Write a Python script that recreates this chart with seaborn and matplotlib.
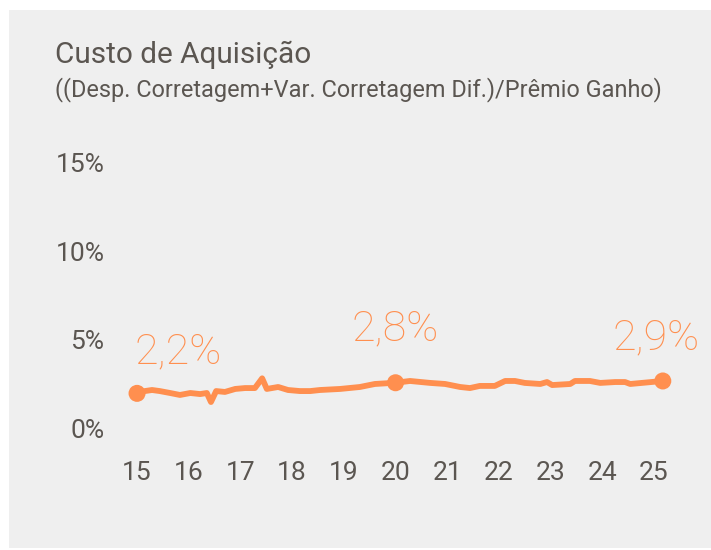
import numpy as np
import pandas as pd
import matplotlib.pyplot as plt
import seaborn as sns
from matplotlib.patches import Rectangle
from matplotlib.transforms import ScaledTranslation

# series (year fraction, % of earned premium)
years = [15.00, 15.15, 15.29, 15.44, 15.64, 15.83, 16.03, 16.22, 16.35, 16.43,
         16.53, 16.70, 16.90, 17.09, 17.28, 17.42, 17.51, 17.73, 17.92, 18.15,
         18.35, 18.54, 18.93, 19.31, 19.60, 20.00, 20.28, 20.67, 20.96, 21.25,
         21.44, 21.63, 21.92, 22.12, 22.31, 22.50, 22.80, 22.93, 23.03, 23.38,
         23.47, 23.76, 23.96, 24.25, 24.44, 24.54, 25.17]
values = [2.20, 2.33, 2.39, 2.33, 2.22, 2.11, 2.22, 2.16, 2.22, 1.71,
          2.33, 2.28, 2.45, 2.50, 2.50, 3.05, 2.45, 2.56, 2.39, 2.33,
          2.33, 2.39, 2.45, 2.56, 2.73, 2.80, 2.90, 2.79, 2.73, 2.56,
          2.50, 2.62, 2.62, 2.90, 2.90, 2.79, 2.73, 2.84, 2.67, 2.73,
          2.90, 2.90, 2.79, 2.84, 2.84, 2.73, 2.90]

highlight_years = [15.00, 20.00, 25.17]
highlight_values = [2.20, 2.80, 2.90]
highlight_labels = ["2,2%", "2,8%", "2,9%"]

x_ticks = list(range(15, 26))
x_labels = [str(t) for t in x_ticks]
y_ticks = [0, 5, 10, 15]
y_labels = ["0%", "5%", "10%", "15%"]

orange = "#ff8f4f"
text_gray = "#5b5651"
panel_gray = "#efefef"

sns.set_theme(style="white")
plt.rcParams["font.family"] = ["Roboto", "DejaVu Sans"]

fig = plt.figure(figsize=(7.11, 5.5), dpi=100)
fig.patch.set_facecolor("white")
fig.patches.append(Rectangle((9 / 711, 2 / 550), 702 / 711, 538 / 550,
                             transform=fig.transFigure, facecolor=panel_gray,
                             edgecolor="none", zorder=-10))

ax = fig.add_axes([0.1782, 0.1979, 0.778, 0.531])
ax.set_facecolor("none")

df = pd.DataFrame({"year": years, "value": values})
sns.lineplot(data=df, x="year", y="value", ax=ax, color=orange,
             linewidth=4.2, solid_capstyle="round", solid_joinstyle="round")
sns.scatterplot(x=highlight_years, y=highlight_values, ax=ax, color=orange,
                s=150, edgecolor="none", zorder=5)

offsets = [(-1.5, 30), (0, 39), (-5, 31)]
aligns = ["left", "center", "center"]
for xv, yv, lab, off, ha in zip(highlight_years, highlight_values,
                                highlight_labels, offsets, aligns):
    ax.annotate(lab, (xv, yv), xytext=off, textcoords="offset points",
                ha=ha, va="center", fontsize=31, color=orange,
                fontweight="light")

ax.set_xlim(14.8, 25.5)
ax.set_ylim(-0.5, 16)
ax.set_xticks(x_ticks, x_labels)
ax.set_yticks(y_ticks, y_labels)
ax.tick_params(axis="both", length=0, labelsize=19, labelcolor=text_gray)
ax.tick_params(axis="y", pad=16)
ax.tick_params(axis="x", pad=14)
shift = ScaledTranslation(0, 0.043, fig.dpi_scale_trans)
for lab in ax.get_yticklabels():
    lab.set_transform(lab.get_transform() + shift)
ax.set_xlabel("")
ax.set_ylabel("")
for s in ax.spines.values():
    s.set_visible(False)
ax.grid(False)

fig.text(55 / 711, 1 - 55 / 550, "Custo de Aquisição", fontsize=21.4,
         color=text_gray, ha="left", va="center")
fig.text(55 / 711, 1 - 90 / 550,
         "((Desp. Corretagem+Var. Corretagem Dif.)/Prêmio Ganho)",
         fontsize=16.9, color=text_gray, ha="left", va="center")

fig.savefig("out.png", dpi=100)
